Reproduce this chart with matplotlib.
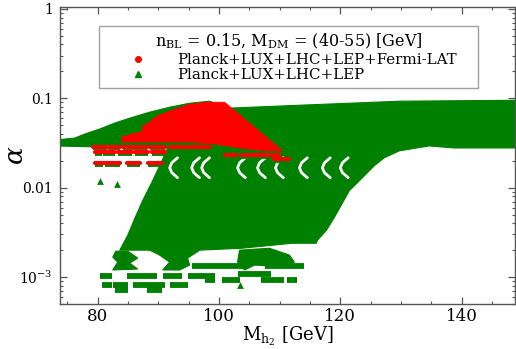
import matplotlib
matplotlib.use("Agg")
import matplotlib.pyplot as plt
from matplotlib.lines import Line2D

plt.rcParams["font.family"] = "DejaVu Serif"
plt.rcParams["mathtext.fontset"] = "dejavuserif"

GREEN = "#008000"
RED = "#ff0000"

# outline of the dense green (Planck+LUX+LHC+LEP) region: M_h2 [GeV], alpha
green_mass = [73.0, 76.22, 77.87, 80.33, 82.80, 85.27, 88.56, 91.86, 95.15, 98.44,
              101.4, 113.26, 129.72, 150.0,
              150.0, 138.77, 134.66, 129.72, 127.25, 125.6, 123.96, 122.31, 121.49,
              119.02, 117.7, 116.22, 116.06, 112.1, 103.7, 96.8, 83.63,
              84.94, 86.10, 87.41, 88.89, 90.21, 91.53, 80.33, 73.0]
green_alpha = [0.0341, 0.0359, 0.0398, 0.0453, 0.0528, 0.0599, 0.0699, 0.0794, 0.0880, 0.0927,
               0.0774, 0.0836, 0.0927, 0.0951,
               0.0278, 0.0278, 0.0293, 0.0258, 0.0216, 0.0176, 0.0136, 0.0105, 0.00927,
               0.00464, 0.00333, 0.00258, 0.00239, 0.00239, 0.0021, 0.0020, 0.0020,
               0.00293, 0.00452, 0.00717, 0.01136, 0.0176, 0.0278, 0.0285, 0.0293]

# empty arcs inside the green region (M_h2 of the arc's leftmost point)
arc_mass = [91.86, 95.48, 97.13, 103.05, 106.34, 109.3, 113.26, 117.04, 120.0]
arc_alpha = [0.0216, 0.0190, 0.01668, 0.0147, 0.01292]  # from top tip to bottom tip
arc_shift = [1.3, 0.35, 0.0, 0.35, 1.3]                 # GeV right of the leftmost point

# lower green islands
blob1_mass = [82.97, 84.94, 86.59, 85.27, 86.59, 82.47, 83.30, 82.47]
blob1_alpha = [0.00195, 0.00195, 0.00163, 0.00143, 0.00123, 0.00120, 0.00147, 0.00167]
blob2_mass = [88.56, 96.80, 94.82, 95.15, 93.50, 90.71, 91.86, 90.21]
blob2_alpha = [0.0020, 0.0020, 0.00163, 0.00136, 0.00120, 0.00120, 0.00147, 0.00176]
blob3_mass = [103.38, 108.32, 111.61, 112.43, 109.97, 105.85, 104.20, 103.05]
blob3_alpha = [0.0020, 0.0021, 0.00176, 0.00147, 0.00133, 0.00136, 0.00120, 0.00147]

# rows of merged green triangles: alpha, (M_min, M_max) pairs
green_row_alpha = [0.00133, 0.00108, 0.00103, 0.000926, 0.000815, 0.000717]
green_row_ranges = [
    [(95.48, 104.20), (107.5, 114.08)],
    [(103.05, 108.65)],
    [(80.33, 82.31), (84.78, 89.72), (90.71, 93.83), (94.82, 99.27)],
    [(97.62, 99.27), (100.42, 103.38), (107.0, 110.79), (111.28, 112.93)],
    [(80.66, 82.31), (82.47, 84.94), (85.77, 88.24), (88.24, 91.03), (91.86, 94.82)],
    [(82.80, 84.94), (88.07, 90.54)],
]

# isolated green points
single_mass = [80.33, 83.13, 103.38]
single_alpha = [0.01196, 0.01108, 0.000815]

# dense red (Planck+LUX+LHC+LEP+Fermi-LAT) region
red_mass = [88.56, 89.72, 91.86, 95.15, 97.95, 100.91, 105.03, 110.46, 107.5,
            103.38, 99.27, 95.15, 83.96, 83.96, 87.41, 87.41]
red_alpha = [0.0541, 0.0631, 0.0717, 0.0858, 0.0903, 0.0903, 0.0528, 0.0258, 0.0258,
             0.0278, 0.0308, 0.0324, 0.0324, 0.0369, 0.0430, 0.0489]

red_row_alpha = [0.0285, 0.0245, 0.0185, 0.0227, 0.0205]
red_row_ranges = [
    [(79.18, 81.49), (81.65, 83.63), (84.12, 88.07), (88.56, 91.03), (91.86, 93.83), (94.33, 98.44)],
    [(79.51, 80.66), (80.83, 82.80), (83.30, 85.60), (86.10, 88.24), (88.89, 91.03)],
    [(79.51, 80.83), (81.16, 83.63), (84.78, 86.92), (88.24, 90.54)],
    [(100.91, 102.89), (103.71, 107.83), (108.32, 109.97)],
    [(109.14, 111.61)],
]

x_ticks = [80, 100, 120, 140]
y_ticks = [1e-3, 1e-2, 1e-1, 1]
y_tick_labels = [r"$10^{-3}$", "0.01", "0.1", "1"]

fig = plt.figure(figsize=(5.16, 3.49), dpi=100)
ax = fig.add_axes([0.116, 0.129, 0.882, 0.851])
ax.set_yscale("log")

ax.fill(green_mass, green_alpha, color=GREEN, lw=0.8, zorder=2)
for m in arc_mass:
    ax.plot([m + s for s in arc_shift], arc_alpha, color="white", lw=2.0,
            solid_capstyle="round", solid_joinstyle="round", zorder=2.5)
for bm, ba in [(blob1_mass, blob1_alpha), (blob2_mass, blob2_alpha), (blob3_mass, blob3_alpha)]:
    ax.fill(bm, ba, color=GREEN, lw=0.8, zorder=2)
for a, ranges in zip(green_row_alpha, green_row_ranges):
    for lo, hi in ranges:
        ax.plot([lo, hi], [a, a], color=GREEN, lw=4.2, solid_capstyle="butt", zorder=2)
ax.scatter(single_mass, single_alpha, marker="^", s=24, color=GREEN, linewidths=0, zorder=2)

ax.fill(red_mass, red_alpha, color=RED, lw=0.6, zorder=3)
for a, ranges in zip(red_row_alpha, red_row_ranges):
    for lo, hi in ranges:
        ax.plot([lo, hi], [a, a], color=GREEN, lw=4.2, solid_capstyle="butt", zorder=3)
        ax.plot([lo, hi], [a * 1.01, a * 1.01], color=RED, lw=3.0, solid_capstyle="round", zorder=4)

ax.set_xlim(73.75, 148.8)
ax.set_ylim(5e-4, 1.05)
ax.set_xticks(x_ticks)
ax.set_xticks(range(75, 150, 5), minor=True)
ax.set_yticks(y_ticks)
ax.set_yticklabels(y_tick_labels)
ax.tick_params(axis="both", which="both", direction="in", top=True, right=True, colors="#555555",
               labelcolor="black")
ax.tick_params(axis="both", which="major", length=5, width=0.9)
ax.tick_params(axis="both", which="minor", length=2.5, width=0.8)
ax.tick_params(axis="x", labelsize=12, pad=3)
ax.tick_params(axis="y", labelsize=10, pad=5)
for sp in ax.spines.values():
    sp.set_color("#555555")
    sp.set_linewidth(1.0)

ax.set_xlabel(r"M$_{\mathrm{h_2}}$ [GeV]", fontsize=13, labelpad=0)
ax.set_ylabel(r"$\alpha$", fontsize=19)
ax.yaxis.set_label_coords(-0.07, 0.5)

handles = [
    Line2D([], [], ls="none", marker="o", ms=4, color=RED, mec=RED),
    Line2D([], [], ls="none", marker="^", ms=5, color=GREEN, mec=GREEN),
]
labels = ["Planck+LUX+LHC+LEP+Fermi-LAT", "Planck+LUX+LHC+LEP"]
leg = ax.legend(handles, labels, title=r"n$_{\mathrm{BL}}$ = 0.15, M$_{\mathrm{DM}}$ = (40-55) [GeV]",
                loc="upper left", bbox_to_anchor=(0.086, 0.741, 0.833, 0.195), mode="expand",
                fontsize=10.8, title_fontsize=11.5, frameon=True, fancybox=False,
                borderpad=0.4, labelspacing=0.1, handletextpad=0.4, handlelength=4.4,
                borderaxespad=0)
leg.get_frame().set_edgecolor("#888888")
leg.get_frame().set_linewidth(1.0)

fig.savefig("out.png", dpi=100, facecolor="white")
